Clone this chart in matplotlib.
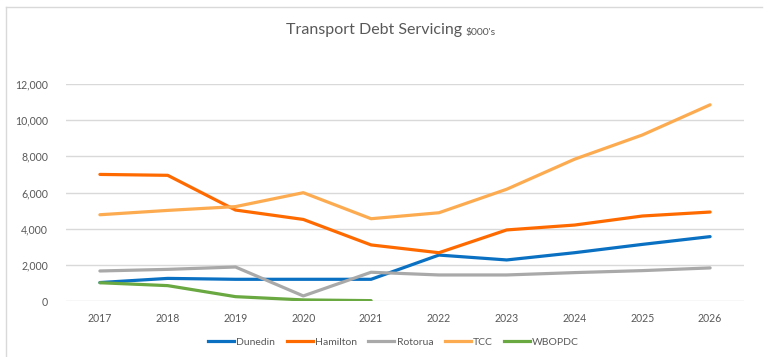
import matplotlib.pyplot as plt
from matplotlib.lines import Line2D

years = ['2017', '2018', '2019', '2020', '2021', '2022', '2023', '2024', '2025', '2026']

dunedin = [1020, 1250, 1200, 1200, 1200, 2540, 2270, 2670, 3130, 3560]
hamilton = [7000, 6950, 5030, 4510, 3100, 2670, 3930, 4200, 4700, 4920]
rotorua = [1660, 1750, 1880, 280, 1590, 1440, 1440, 1570, 1680, 1830]
tcc = [4770, 5010, 5220, 5990, 4550, 4880, 6180, 7840, 9180, 10850]
wbopdc = [1010, 850, 240, 60, 20]

series = [
    ('Dunedin', dunedin, '#0a70c2'),
    ('Hamilton', hamilton, '#ff6a00'),
    ('Rotorua', rotorua, '#a9a9a9'),
    ('TCC', tcc, '#fdab50'),
    ('WBOPDC', wbopdc, '#6aa842'),
]

plt.rcParams['font.family'] = ['Lato', 'DejaVu Sans']
txt = '#595959'

fig = plt.figure(figsize=(7.69, 3.57), dpi=100)
ax = fig.add_axes([66 / 769, 56 / 357, 678 / 769, 217 / 357])

x = list(range(len(years)))
for name, vals, col in series:
    ax.plot(x[:len(vals)], vals, color=col, lw=2.3, label=name,
            solid_capstyle='round', solid_joinstyle='round', zorder=3)

ax.set_xlim(-0.5, len(years) - 0.5)
ax.set_ylim(0, 12000)
ax.set_yticks(range(0, 12001, 2000))
ax.set_yticklabels([f'{v:,}' for v in range(0, 12001, 2000)])
ax.set_xticks(x)
ax.set_xticklabels(years)
ax.grid(axis='y', color='#d9d9d9', lw=1)
ax.set_axisbelow(True)
for s in ax.spines.values():
    s.set_visible(False)
ax.tick_params(length=0, labelsize=7.6, colors=txt, pad=9)
ax.tick_params(axis='y', pad=13)

# title with smaller units suffix
fig.text(0.601, 0.915, 'Transport Debt Servicing', ha='right', va='center',
         fontsize=11.5, color=txt)
fig.text(0.605, 0.908, "$000's", ha='left', va='center', fontsize=7.5, color=txt)

handles = [Line2D([], [], color=c, lw=2.3) for _, _, c in series]
fig.legend(handles, [n for n, _, _ in series], loc='center', ncol=5,
           bbox_to_anchor=(0.512, 0.042), frameon=False, fontsize=7.5,
           labelcolor=txt, handlelength=2.5, handletextpad=0.2, columnspacing=1.1)

# chart frame
fig.add_artist(Line2D([6 / 769, 762 / 769], [1 - 7 / 357] * 2, color='#d9d9d9', lw=1))
fig.add_artist(Line2D([6 / 769] * 2, [0, 1 - 7 / 357], color='#d9d9d9', lw=1))

fig.savefig('out.png', dpi=100, facecolor='white')
